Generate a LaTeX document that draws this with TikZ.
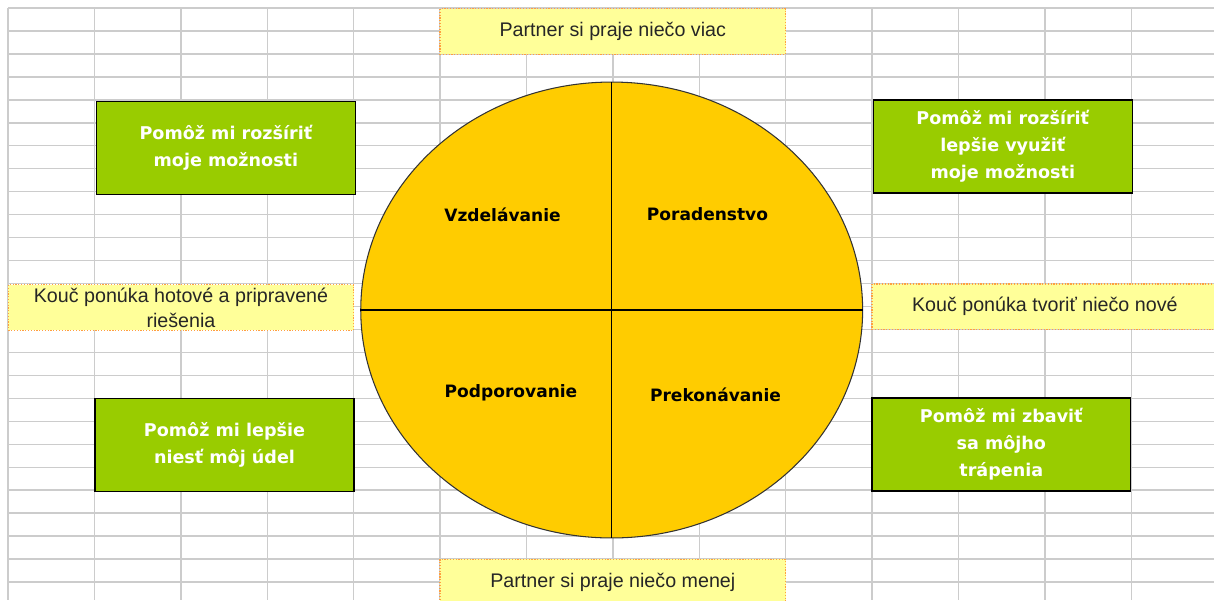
\documentclass[tikz,border=0pt]{standalone}
\usepackage{fontspec}
\usetikzlibrary{shapes.geometric}
\setmainfont{Liberation Sans}
\newfontfamily\tahoma{DejaVu Sans}
\definecolor{gridgray}{HTML}{CCCCCC}
\definecolor{leaf}{HTML}{99CC00}
\definecolor{sun}{HTML}{FFCC00}
\definecolor{notefill}{HTML}{FFFF99}
\definecolor{notebd}{HTML}{FFA040}

\begin{document}
\begin{tikzpicture}[x=0.02cm, y=-0.02cm,
  goal/.style={draw=black, line width=0.8pt, fill=leaf, text=white, minimum width=5.18cm, minimum height=1.86cm, align=center, inner sep=0pt, font=\tahoma\bfseries\fontsize{10}{15.3}\selectfont},
  note/.style={draw=notebd, fill=notefill, line width=0.7pt, dash pattern=on 0.7pt off 0.9pt, minimum width=6.91cm, minimum height=0.91cm, align=center, inner sep=0pt, text=black!85, font=\fontsize{11.2}{14.2}\selectfont},
  quad/.style={font=\tahoma\bfseries\fontsize{9.7}{11}\selectfont}]

\useasboundingbox (0,0) rectangle (1214,600);
\clip (0,0) rectangle (1214,600);

\foreach \i in {0,...,14}
  \draw[gridgray, line width=0.8pt] ({8+86.4*\i}, 8) -- ({8+86.4*\i}, 600);
\foreach \j in {0,...,25}
  \draw[gridgray, line width=0.8pt] (8, {8+22.96*\j}) -- (1214, {8+22.96*\j});

\node[note] (more) at (612.8, 31.5) {Partner si praje niečo viac};
\node[note] (less) at (612.8, 582) {Partner si praje niečo menej};
\node[note] (ready) at (181, 307.5) {Kouč ponúka hotové a pripravené\\riešenia};
\node[note] (new) at (1044.8, 306.7) {Kouč ponúka tvoriť niečo nové};

\node[draw=black!80, line width=0.6pt, fill=sun, ellipse, minimum width=10.04cm, minimum height=9.12cm, inner sep=0pt] (wheel) at (611.7, 310) {};
\draw[line width=0.6pt] (wheel.north) -- (wheel.south);
\draw[line width=0.6pt] (wheel.west) -- (wheel.east);

\node[quad] (edu) at (502.5, 215) {Vzdelávanie};
\node[quad] (adv) at (707.5, 214) {Poradenstvo};
\node[quad] (sup) at (511, 393) {Podporovanie};
\node[quad] (over) at (715.5, 395) {Prekonávanie};

\node[goal] (widen) at (225.9, 147.9) {Pomôž mi rozšíriť\\moje možnosti};
\node[goal] (use) at (1002.8, 146.5) {Pomôž mi rozšíriť\\lepšie využiť\\moje možnosti};
\node[goal] (bear) at (224.5, 444.8) {Pomôž mi lepšie\\niesť môj údel};
\node[goal] (rid) at (1001.3, 444.3) {Pomôž mi zbaviť\\sa môjho\\trápenia};

\end{tikzpicture}
\end{document}
